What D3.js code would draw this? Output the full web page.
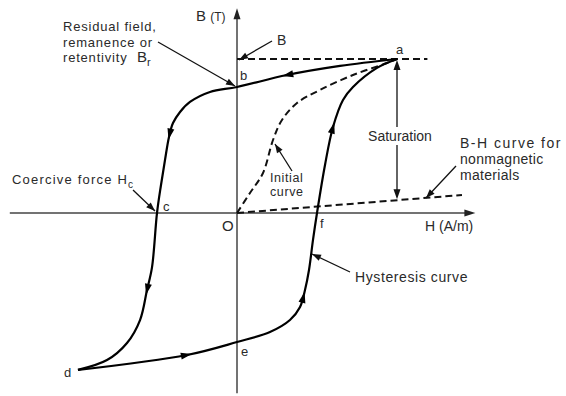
<!DOCTYPE html>
<html>
<head>
<meta charset="utf-8">
<script src="https://cdn.jsdelivr.net/npm/d3@7"></script>
<style>
body { margin: 0; background: #fff; }
text { font-family: "Liberation Sans", Arial, sans-serif; fill: #2a2a2a; }
</style>
</head>
<body>
<svg id="chart" width="566" height="396"></svg>
<script>
// 軸の範囲 (H は a を 1, B は飽和を 1 とした相対値)
var hExtent = [-1.42, 1.49];
var bExtent = [-1.17, 1.33];

// 減少側の枝 a -> b -> c -> d
var descending = [[1.0, 1.0], [0.644, 0.955], [0.3125, 0.896], [0, 0.818], [-0.169, 0.786],
    [-0.294, 0.721], [-0.356, 0.656], [-0.4, 0.584], [-0.425, 0.494], [-0.45, 0.344],
    [-0.475, 0.182], [-0.5, 0], [-0.531, -0.351], [-0.5625, -0.5], [-0.606, -0.695],
    [-0.6875, -0.844], [-0.8125, -0.955], [-0.994, -1.019]];
// 増加側の枝 d -> e -> f -> a
var ascending = [[-0.994, -1.019], [-0.3125, -0.922], [0, -0.838], [0.206, -0.773], [0.331, -0.695],
    [0.394, -0.610], [0.425, -0.5], [0.45, -0.37], [0.475, -0.175], [0.5, 0], [0.55, 0.312],
    [0.6, 0.558], [0.6625, 0.734], [0.725, 0.818], [0.875, 0.942], [1.0, 1.0]];
// 初期磁化曲線 O -> a
var initial = [[0, 0], [0.081, 0.13], [0.1625, 0.26], [0.225, 0.474], [0.281, 0.604], [0.375, 0.714],
    [0.519, 0.799], [0.725, 0.896], [0.9375, 0.974], [1.0, 1.0]];
// 非磁性体の B-H 直線
var nonmagnetic = [[0, 0], [1.406, 0.117]];
// 飽和レベル
var saturationLine = [[0, 1], [1.19, 1]];
// 曲線上の矢印の位置
var descArrows = [[0.3125, 0.896], [-0.419, 0.506], [-0.5625, -0.5]];
var ascArrows = [[-0.3125, -0.922], [0.41, -0.545], [0.6, 0.558]];
// 点ラベル
var pointLabels = [
    { t: "a", h: 1.0, b: 1.0, dx: -1, dy: -5 },
    { t: "b", h: 0, b: 0.818, dx: 3, dy: -7 },
    { t: "c", h: -0.5, b: 0, dx: 6, dy: -2 },
    { t: "d", h: -0.994, b: -1.019, dx: -14, dy: 7 },
    { t: "e", h: 0, b: -0.838, dx: 4, dy: 14 },
    { t: "f", h: 0.5, b: 0, dx: 3, dy: 15 }
];

var svg = d3.select("#chart");
var x = d3.scaleLinear().domain([0, 1]).range([237, 397]);
var y = d3.scaleLinear().domain([0, 1]).range([213, 59]);

var line = d3.line().x(function (d) { return x(d[0]); }).y(function (d) { return y(d[1]); });
var smooth = d3.line().x(function (d) { return x(d[0]); }).y(function (d) { return y(d[1]); })
    .curve(d3.curveCatmullRom.alpha(0.5));

function arrowHead(g, tx, ty, ang, len, half, color) {
    var c = Math.cos(ang), s = Math.sin(ang);
    var bx = tx - len * c, by = ty - len * s;
    g.append("path")
        .attr("d", "M" + tx + "," + ty + "L" + (bx - half * s) + "," + (by + half * c) +
            "L" + (bx + half * s) + "," + (by - half * c) + "Z")
        .attr("fill", color || "#111");
}

// 軸
var axisColor = "#444";
svg.append("line").attr("x1", x(hExtent[0])).attr("x2", x(hExtent[1]) - 4)
    .attr("y1", y(0)).attr("y2", y(0)).attr("stroke", axisColor).attr("stroke-width", 1.5);
svg.append("line").attr("x1", x(0)).attr("x2", x(0))
    .attr("y1", y(bExtent[0])).attr("y2", y(bExtent[1]) + 4).attr("stroke", axisColor).attr("stroke-width", 1.5);
arrowHead(svg, x(hExtent[1]), y(0), 0, 11, 3.5, "#222");
arrowHead(svg, x(0), y(bExtent[1]), -Math.PI / 2, 11, 3.5, "#222");

// 破線
[saturationLine, nonmagnetic].forEach(function (d) {
    svg.append("path").attr("d", line(d)).attr("fill", "none")
        .attr("stroke", "#111").attr("stroke-width", 2).attr("stroke-dasharray", "7,4");
});
svg.append("path").attr("d", smooth(initial)).attr("fill", "none")
    .attr("stroke", "#111").attr("stroke-width", 2).attr("stroke-dasharray", "7,4");

// ヒステリシスループ
function branch(data, arrows) {
    var p = svg.append("path").attr("d", smooth(data)).attr("fill", "none")
        .attr("stroke", "#000").attr("stroke-width", 2.2).attr("stroke-linejoin", "round");
    var node = p.node(), total = node.getTotalLength();
    arrows.forEach(function (a) {
        var px = x(a[0]), py = y(a[1]), best = 0, bestD = Infinity;
        for (var l = 0; l <= total; l += 1) {
            var q = node.getPointAtLength(l);
            var dd = (q.x - px) * (q.x - px) + (q.y - py) * (q.y - py);
            if (dd < bestD) { bestD = dd; best = l; }
        }
        var p1 = node.getPointAtLength(Math.max(0, best - 3));
        var p2 = node.getPointAtLength(Math.min(total, best + 3));
        var tip = node.getPointAtLength(Math.min(total, best + 5));
        arrowHead(svg, tip.x, tip.y, Math.atan2(p2.y - p1.y, p2.x - p1.x), 11, 3.5, "#000");
    });
}
branch(descending, descArrows);
branch(ascending, ascArrows);

// 飽和の両矢印
svg.append("line").attr("x1", x(1)).attr("x2", x(1))
    .attr("y1", y(1) + 6).attr("y2", y(0.083) - 6).attr("stroke", "#111").attr("stroke-width", 1.3);
arrowHead(svg, x(1), y(1) + 1, -Math.PI / 2, 10, 3.5);
arrowHead(svg, x(1), y(0.083) - 1, Math.PI / 2, 10, 3.5);
svg.append("rect").attr("x", 366).attr("y", 127).attr("width", 68).attr("height", 18).attr("fill", "#fff");
svg.append("text").attr("x", 400).attr("y", 141).attr("text-anchor", "middle")
    .style("font-size", "14px").text("Saturation");

// 注記の矢印
function pointer(x1, y1, x2, y2) {
    svg.append("line").attr("x1", x1).attr("y1", y1).attr("x2", x2).attr("y2", y2)
        .attr("stroke", "#111").attr("stroke-width", 1.3);
    arrowHead(svg, x2, y2, Math.atan2(y2 - y1, x2 - x1), 9, 3.3);
}
pointer(158, 42, x(0) - 2, y(0.818) - 1);
pointer(272, 41, x(0) + 2, y(1) + 1);
pointer(133, 190, x(-0.5) - 2, y(0) - 2);
pointer(292, 171, 275, 144);
pointer(456, 166, 426, 198);
pointer(350, 272, 312, 254);

// 点ラベル
svg.selectAll("text.pt").data(pointLabels).enter().append("text").attr("class", "pt")
    .attr("x", function (d) { return x(d.h) + d.dx; })
    .attr("y", function (d) { return y(d.b) + d.dy; })
    .style("font-size", "13px").text(function (d) { return d.t; });
svg.append("text").attr("x", 222).attr("y", 231).style("font-size", "15px").text("O");

// 軸ラベル
var bt = svg.append("text").attr("x", 196).attr("y", 21);
bt.append("tspan").style("font-size", "15px").text("B ");
bt.append("tspan").style("font-size", "12px").text("(T)");
svg.append("text").attr("x", 425).attr("y", 231).style("font-size", "14px").text("H (A/m)");
svg.append("text").attr("x", 277).attr("y", 45).style("font-size", "14px").text("B");

// 説明文
function block(lines, x0, y0, dy, size, ls) {
    lines.forEach(function (t, i) {
        svg.append("text").attr("x", x0).attr("y", y0 + i * dy)
            .style("font-size", size + "px").style("letter-spacing", ls[i] + "px").text(t);
    });
}
block(["Residual field,", "remanence or", "retentivity"], 63, 31, 15.5, 13, [0.8, 0.8, 0.8]);
var br = svg.append("text").attr("x", 137).attr("y", 62);
br.append("tspan").style("font-size", "15px").text("B");
br.append("tspan").attr("dy", 4).style("font-size", "11px").text("r");

var hc = svg.append("text").attr("x", 12).attr("y", 184).style("font-size", "13px").style("letter-spacing", "1.2px");
hc.append("tspan").text("Coercive force H");
hc.append("tspan").attr("dy", 4).style("font-size", "10px").text("c");

block(["Initial", "curve"], 270, 182, 14, 12.5, [0.6, 0.6]);
block(["B-H curve for", "nonmagnetic", "materials"], 460, 148, 16, 14, [1.5, 0.3, 0.3]);
svg.append("text").attr("x", 355).attr("y", 282).style("font-size", "14px")
    .style("letter-spacing", "0.6px").text("Hysteresis curve");
</script>
</body>
</html>
